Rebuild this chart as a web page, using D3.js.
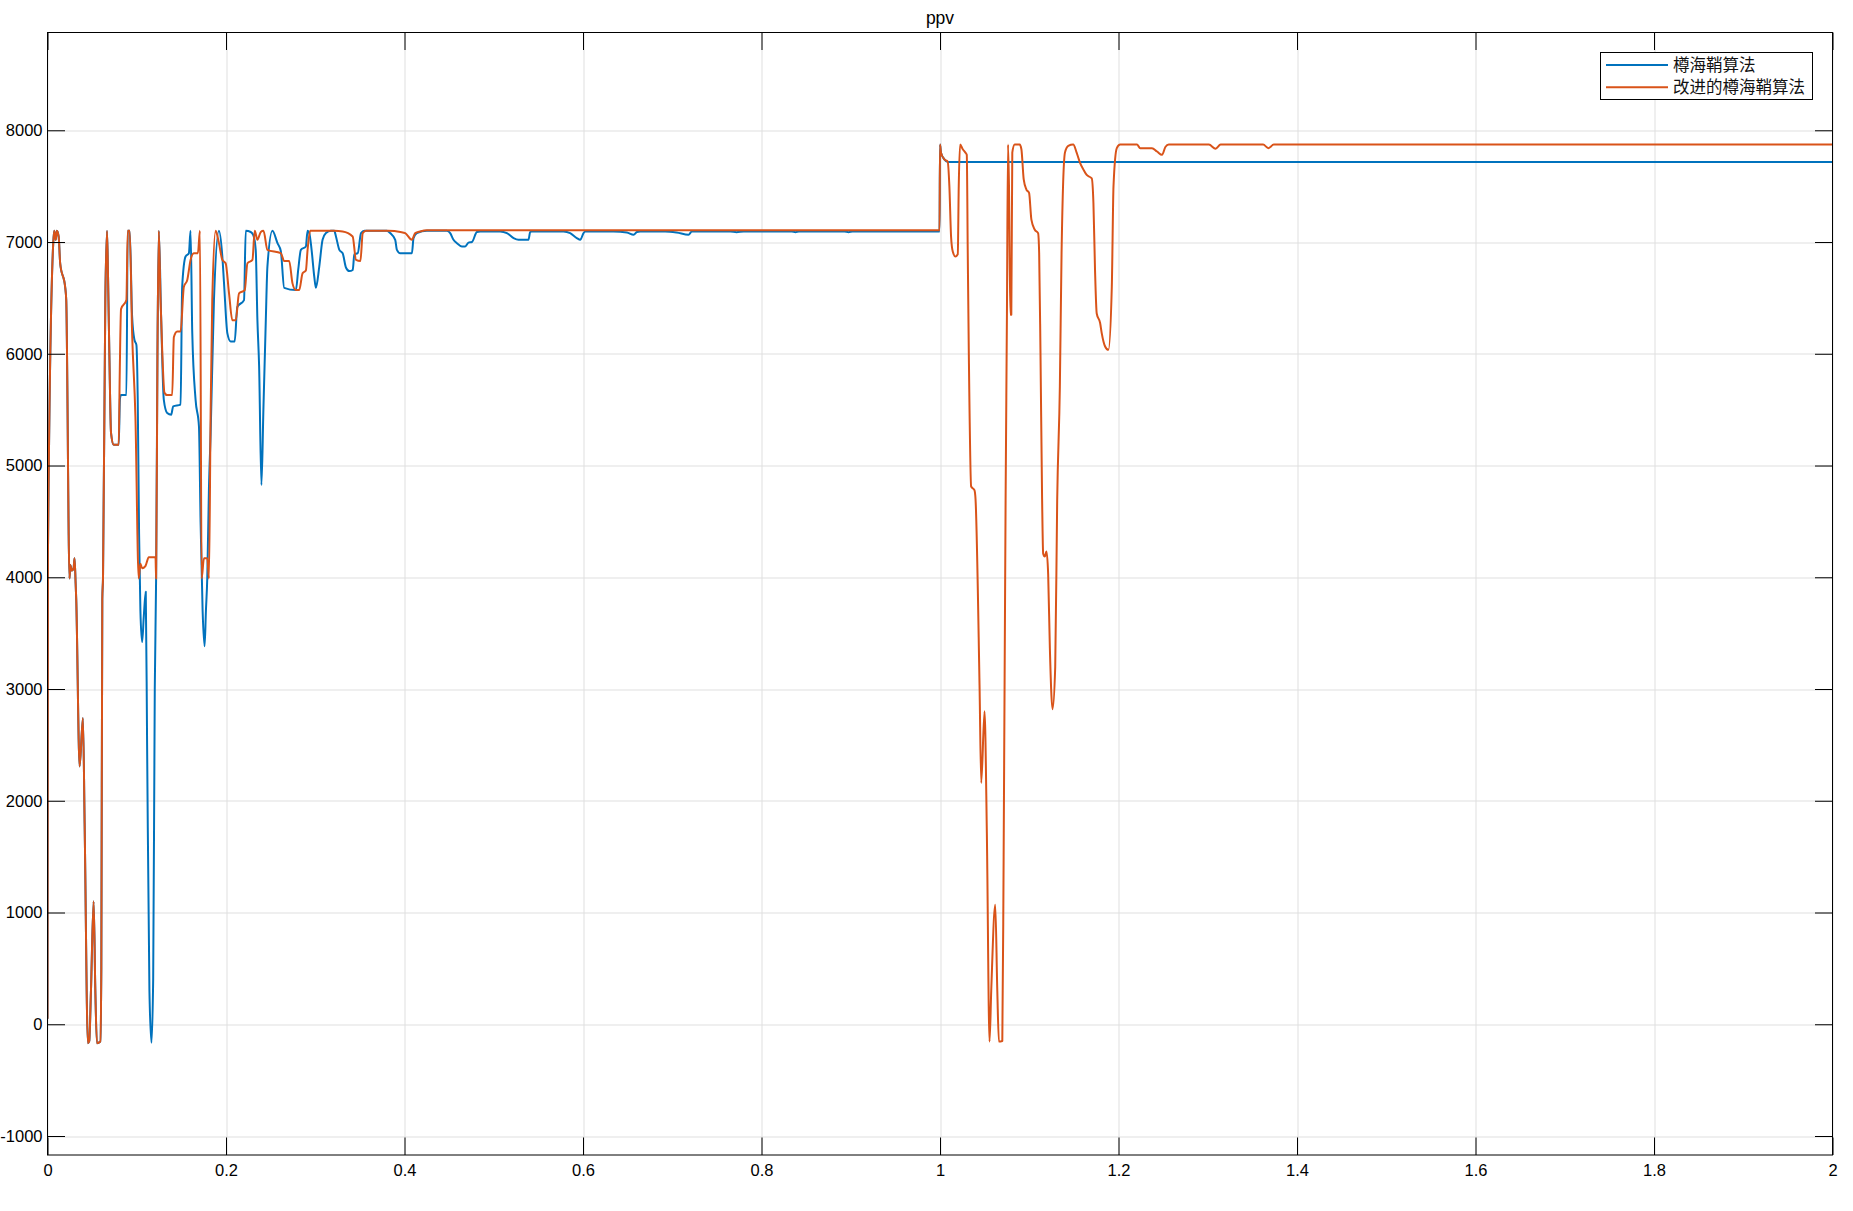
<!DOCTYPE html>
<html>
<head>
<meta charset="utf-8">
<script src="https://cdn.jsdelivr.net/npm/d3@7"></script>
<style>
  body { margin: 0; background: #fff; }
  svg text { font-family: "Liberation Sans", Arial, sans-serif; }
</style>
</head>
<body>
<div id="chart"></div>
<script>
// chart text
var chartTitle = "ppv";
var legendNames = ["樽海鞘算法", "改进的樽海鞘算法"];
var lineColors = ["#0072BD", "#D95319"];

// tick values
var xTicks = [0, 0.2, 0.4, 0.6, 0.8, 1, 1.2, 1.4, 1.6, 1.8, 2];
var yTicks = [-1000, 0, 1000, 2000, 3000, 4000, 5000, 6000, 7000, 8000];
var xDomain = [0, 2];
var yDomain = [-1170, 8875];

// 樽海鞘算法 : [time, ppv]
var ssaPoints = [
  [0, 50], [0.0005, 4200], [0.0065, 7000], [0.0075, 7100], [0.0092, 7020],
  [0.0105, 7100], [0.0125, 7050], [0.0142, 6810], [0.0199, 6590], [0.021, 6480],
  [0.0247, 3990], [0.0255, 4110], [0.0273, 4060], [0.0292, 4080], [0.0303, 4170],
  [0.0315, 3950], [0.0322, 3800], [0.036, 2307], [0.0397, 2740], [0.0416, 1800],
  [0.0453, -170], [0.0468, -150], [0.0487, 300], [0.0517, 1100], [0.0536, 300],
  [0.0554, -170], [0.0592, -155], [0.0603, 500], [0.0614, 3800], [0.0622, 4000],
  [0.0648, 6500], [0.0667, 7100], [0.0678, 6700], [0.0693, 6000], [0.0712, 5290],
  [0.0742, 5185], [0.0798, 5185], [0.0812, 5600], [0.0824, 5630], [0.0884, 5630],
  [0.0899, 7100], [0.0921, 7100], [0.0948, 6335], [0.0974, 6125], [0.0996, 6080],
  [0.1011, 5590], [0.1026, 4395], [0.1041, 3700], [0.106, 3420], [0.1079, 3650],
  [0.1101, 3870], [0.1116, 2500], [0.1142, 300], [0.1165, -165], [0.1184, 400],
  [0.1202, 3000], [0.1217, 3990], [0.1232, 6000], [0.1247, 7100], [0.1273, 6335],
  [0.1303, 5590], [0.1341, 5470], [0.1386, 5455], [0.1408, 5530], [0.1491, 5545],
  [0.1509, 6600], [0.1547, 6870], [0.1584, 6900], [0.1603, 7100], [0.1622, 6185],
  [0.1659, 5590], [0.1697, 5350], [0.1715, 4500], [0.1738, 3700], [0.176, 3382],
  [0.1775, 3700], [0.179, 3990], [0.1809, 4800], [0.1828, 5290], [0.1865, 6480],
  [0.1921, 7100], [0.1959, 6870], [0.1978, 6630], [0.2015, 6185], [0.2052, 6110],
  [0.2097, 6110], [0.2127, 6420], [0.2202, 6480], [0.2221, 7100], [0.2277, 7090],
  [0.2307, 7060], [0.2333, 6930], [0.2352, 6300], [0.2371, 5890], [0.2397, 4825],
  [0.2419, 5500], [0.2446, 6300], [0.2464, 6780], [0.252, 7100], [0.2577, 6990],
  [0.2614, 6920], [0.2652, 6590], [0.2783, 6570], [0.2809, 6750], [0.2839, 6930],
  [0.2895, 6960], [0.2914, 7100], [0.2933, 7080], [0.2959, 6930], [0.2989, 6690],
  [0.3007, 6590], [0.3045, 6780], [0.3082, 7020], [0.312, 7080], [0.3176, 7100],
  [0.3213, 7100], [0.3232, 7050], [0.327, 6930], [0.3307, 6900], [0.3345, 6770],
  [0.3382, 6740], [0.342, 6750], [0.3438, 6890], [0.3476, 6900], [0.3513, 7080],
  [0.3551, 7100], [0.3803, 7100], [0.384, 7080], [0.3896, 7020], [0.3915, 6930],
  [0.3952, 6900], [0.4083, 6900], [0.4101, 7035], [0.4139, 7080], [0.4251, 7100],
  [0.4475, 7100], [0.4512, 7080], [0.4549, 7020], [0.4587, 6990], [0.4643, 6960],
  [0.468, 6960], [0.4717, 6995], [0.4755, 7000], [0.4811, 7090], [0.4848, 7095],
  [0.5072, 7095], [0.5147, 7080], [0.5222, 7035], [0.5277, 7020], [0.5389, 7020],
  [0.5408, 7090], [0.5427, 7095], [0.5782, 7095], [0.5856, 7080], [0.5931, 7035],
  [0.5969, 7020], [0.6006, 7080], [0.6025, 7095], [0.6342, 7095], [0.6492, 7085],
  [0.6567, 7065], [0.6604, 7090], [0.6641, 7095], [0.692, 7095], [0.705, 7085],
  [0.7182, 7065], [0.722, 7095], [0.765, 7095], [0.772, 7088], [0.78, 7095],
  [0.834, 7095], [0.838, 7088], [0.842, 7095], [0.893, 7095], [0.8975, 7088],
  [0.902, 7095], [0.9995, 7095], [1.0, 7872], [1.0011, 7800], [1.0049, 7740],
  [1.0086, 7716], [2.0, 7716]
];

// 改进的樽海鞘算法 : [time, ppv]
var issaPoints = [
  [0, 50], [0.0005, 4200], [0.0065, 7000], [0.0075, 7100], [0.0092, 7020],
  [0.0105, 7100], [0.0125, 7050], [0.0142, 6810], [0.0199, 6590], [0.021, 6480],
  [0.0247, 3990], [0.0255, 4110], [0.0273, 4060], [0.0292, 4080], [0.0303, 4170],
  [0.0315, 3950], [0.0322, 3800], [0.036, 2307], [0.0397, 2740], [0.0416, 1800],
  [0.0453, -170], [0.0468, -150], [0.0487, 300], [0.0517, 1100], [0.0536, 300],
  [0.0554, -170], [0.0592, -155], [0.0603, 500], [0.0614, 3800], [0.0622, 4000],
  [0.0648, 6500], [0.0667, 7100], [0.0678, 6700], [0.0693, 6000], [0.0712, 5290],
  [0.0742, 5185], [0.0798, 5185], [0.0809, 5800], [0.0824, 6400], [0.0884, 6480],
  [0.0899, 7100], [0.0921, 7100], [0.0948, 6185], [0.0985, 5440], [0.1022, 3990],
  [0.1041, 4120], [0.106, 4080], [0.1097, 4100], [0.1135, 4180], [0.121, 4180],
  [0.1217, 3990], [0.1232, 6000], [0.1247, 7100], [0.1266, 6500], [0.1285, 6035],
  [0.1311, 5650], [0.1341, 5630], [0.1397, 5630], [0.1416, 6150], [0.1453, 6200],
  [0.1491, 6200], [0.1528, 6600], [0.1566, 6660], [0.1603, 6840], [0.164, 6900],
  [0.1685, 6900], [0.1708, 7100], [0.1727, 3990], [0.1753, 4170], [0.179, 4170],
  [0.1809, 3990], [0.1828, 5500], [0.1846, 6480], [0.1884, 7100], [0.1921, 6990],
  [0.1959, 6840], [0.1996, 6810], [0.2034, 6540], [0.2071, 6300], [0.2109, 6300],
  [0.2146, 6540], [0.221, 6570], [0.224, 6810], [0.2296, 6840], [0.2322, 7100],
  [0.2352, 7020], [0.239, 7090], [0.242, 7100], [0.2464, 6930], [0.2614, 6900],
  [0.2652, 6830], [0.2708, 6830], [0.2745, 6630], [0.2783, 6570], [0.282, 6570],
  [0.2858, 6720], [0.2895, 6745], [0.2914, 6930], [0.2944, 7100], [0.3213, 7100],
  [0.3307, 7095], [0.3419, 7050], [0.3457, 6840], [0.3506, 6830], [0.3532, 7080],
  [0.357, 7100], [0.382, 7100], [0.3954, 7090], [0.4008, 7080], [0.4083, 7020],
  [0.412, 7080], [0.4176, 7095], [0.4251, 7105], [0.9995, 7105], [1.0, 7872],
  [1.0011, 7800], [1.0049, 7740], [1.0086, 7720], [1.0105, 7500], [1.0124, 7050],
  [1.0143, 6915], [1.0173, 6870], [1.0199, 6890], [1.021, 7500], [1.0225, 7872],
  [1.0255, 7830], [1.0285, 7800], [1.03, 7780], [1.0311, 6900], [1.0323, 6000],
  [1.0349, 4812], [1.0386, 4780], [1.0398, 4700], [1.0443, 3035], [1.0462, 2160],
  [1.0499, 2800], [1.0525, 1710], [1.0555, -155], [1.0574, 300], [1.0619, 1070],
  [1.0642, 300], [1.066, -155], [1.0698, -150], [1.0713, 1500], [1.0735, 4690],
  [1.075, 6364], [1.0762, 7872], [1.0773, 7500], [1.0788, 6350], [1.0799, 6350],
  [1.081, 7800], [1.0837, 7872], [1.0893, 7872], [1.0912, 7830], [1.0938, 7560],
  [1.0968, 7470], [1.0998, 7440], [1.1024, 7200], [1.1062, 7110], [1.1099, 7080],
  [1.1111, 6900], [1.1126, 6000], [1.1144, 4700], [1.1156, 4210], [1.1174, 4185],
  [1.1193, 4230], [1.1212, 4025], [1.1231, 3365], [1.1261, 2820], [1.1291, 3200],
  [1.1313, 4690], [1.1343, 5710], [1.1362, 6900], [1.14, 7800], [1.1437, 7860],
  [1.1493, 7872], [1.1531, 7800], [1.1568, 7710], [1.1606, 7650], [1.1644, 7600],
  [1.17, 7570], [1.1719, 7350], [1.1737, 6750], [1.1756, 6360], [1.1794, 6275],
  [1.1812, 6185], [1.185, 6065], [1.1887, 6035], [1.1925, 6600], [1.1944, 7500],
  [1.1981, 7840], [1.2019, 7872], [1.2206, 7872], [1.2244, 7840], [1.2375, 7840],
  [1.2432, 7810], [1.2488, 7780], [1.2525, 7850], [1.2563, 7872], [1.3013, 7872],
  [1.3088, 7835], [1.3144, 7872], [1.362, 7872], [1.368, 7840], [1.374, 7872],
  [2.0, 7872]
];

var svgWidth = 1853;
var svgHeight = 1211;
var margin = { top: 32.5, right: 20.5, bottom: 56, left: 47.5 };
var chartWidth = svgWidth - margin.left - margin.right;
var chartHeight = svgHeight - margin.top - margin.bottom;
var tickLen = 17.5;

var svg = d3.select("#chart")
  .append("svg")
  .attr("width", svgWidth)
  .attr("height", svgHeight);

var chartGroup = svg.append("g")
  .attr("transform", `translate(${margin.left}, ${margin.top})`);

// scales
var xScale = d3.scaleLinear().domain(xDomain).range([0, chartWidth]);
var yScale = d3.scaleLinear().domain(yDomain).range([chartHeight, 0]);

// grid
chartGroup.append("g").selectAll("line")
  .data(xTicks)
  .enter()
  .append("line")
  .attr("x1", d => Math.round(xScale(d)) + 0.5)
  .attr("x2", d => Math.round(xScale(d)) + 0.5)
  .attr("y1", 0)
  .attr("y2", chartHeight)
  .attr("stroke", "#dfdfdf")
  .attr("stroke-width", 1);

chartGroup.append("g").selectAll("line")
  .data(yTicks)
  .enter()
  .append("line")
  .attr("x1", 0)
  .attr("x2", chartWidth)
  .attr("y1", d => Math.round(yScale(d)) + 0.5)
  .attr("y2", d => Math.round(yScale(d)) + 0.5)
  .attr("stroke", "#dfdfdf")
  .attr("stroke-width", 1);

// lines
svg.append("defs").append("clipPath")
  .attr("id", "plotClip")
  .append("rect")
  .attr("width", chartWidth)
  .attr("height", chartHeight);

var lineGen = d3.line()
  .x(d => xScale(d[0]))
  .y(d => yScale(d[1]))
  .curve(d3.curveMonotoneX);

var allSeries = [ssaPoints, issaPoints];

chartGroup.append("g")
  .attr("clip-path", "url(#plotClip)")
  .selectAll("path")
  .data(allSeries)
  .enter()
  .append("path")
  .attr("d", d => lineGen(d))
  .attr("fill", "none")
  .attr("stroke", (d, i) => lineColors[i])
  .attr("stroke-width", 2)
  .attr("stroke-linejoin", "round");

// axes, ticks pointing inward on all four sides
function styleAxis(g) {
  g.select(".domain").remove();
  g.selectAll(".tick line").attr("stroke", "#000").attr("stroke-width", 1);
  g.selectAll(".tick text")
    .attr("fill", "#000")
    .style("font-family", "'Liberation Sans', Arial, sans-serif")
    .style("font-size", "16.5px");
}

var fmt = d => String(d);

chartGroup.append("g")
  .attr("transform", `translate(0, ${chartHeight})`)
  .call(d3.axisBottom(xScale).tickValues(xTicks).tickSize(-tickLen).tickPadding(9).tickFormat(fmt))
  .call(styleAxis);

chartGroup.append("g")
  .call(d3.axisLeft(yScale).tickValues(yTicks).tickSize(-tickLen).tickPadding(5).tickFormat(fmt))
  .call(styleAxis);

chartGroup.append("g")
  .call(d3.axisTop(xScale).tickValues(xTicks).tickSize(-tickLen).tickFormat(""))
  .call(styleAxis);

chartGroup.append("g")
  .attr("transform", `translate(${chartWidth}, 0)`)
  .call(d3.axisRight(yScale).tickValues(yTicks).tickSize(-tickLen).tickFormat(""))
  .call(styleAxis);

// box
chartGroup.append("rect")
  .attr("width", chartWidth)
  .attr("height", chartHeight)
  .attr("fill", "none")
  .attr("stroke", "#000")
  .attr("stroke-width", 1);

// title
chartGroup.append("text")
  .attr("x", chartWidth / 2)
  .attr("y", -9)
  .attr("text-anchor", "middle")
  .style("font-size", "17.5px")
  .attr("fill", "#000")
  .text(chartTitle);

// legend
var legend = svg.append("g")
  .attr("transform", "translate(1600.5, 52.5)");

legend.append("rect")
  .attr("width", 212)
  .attr("height", 47)
  .attr("fill", "#fff")
  .attr("stroke", "#000")
  .attr("stroke-width", 1);

var legendRows = legend.selectAll(".row")
  .data(legendNames)
  .enter()
  .append("g")
  .attr("class", "row")
  .attr("transform", (d, i) => `translate(0, ${12.5 + i * 22.3})`);

legendRows.append("line")
  .attr("x1", 5.5)
  .attr("x2", 67.5)
  .attr("stroke", (d, i) => lineColors[i])
  .attr("stroke-width", 2);

legendRows.append("text")
  .attr("x", 72.5)
  .attr("dy", "0.36em")
  .style("font-family", "'Noto Sans CJK SC', sans-serif")
  .style("font-size", "16.5px")
  .attr("fill", "#111")
  .text(d => d);
</script>
</body>
</html>
